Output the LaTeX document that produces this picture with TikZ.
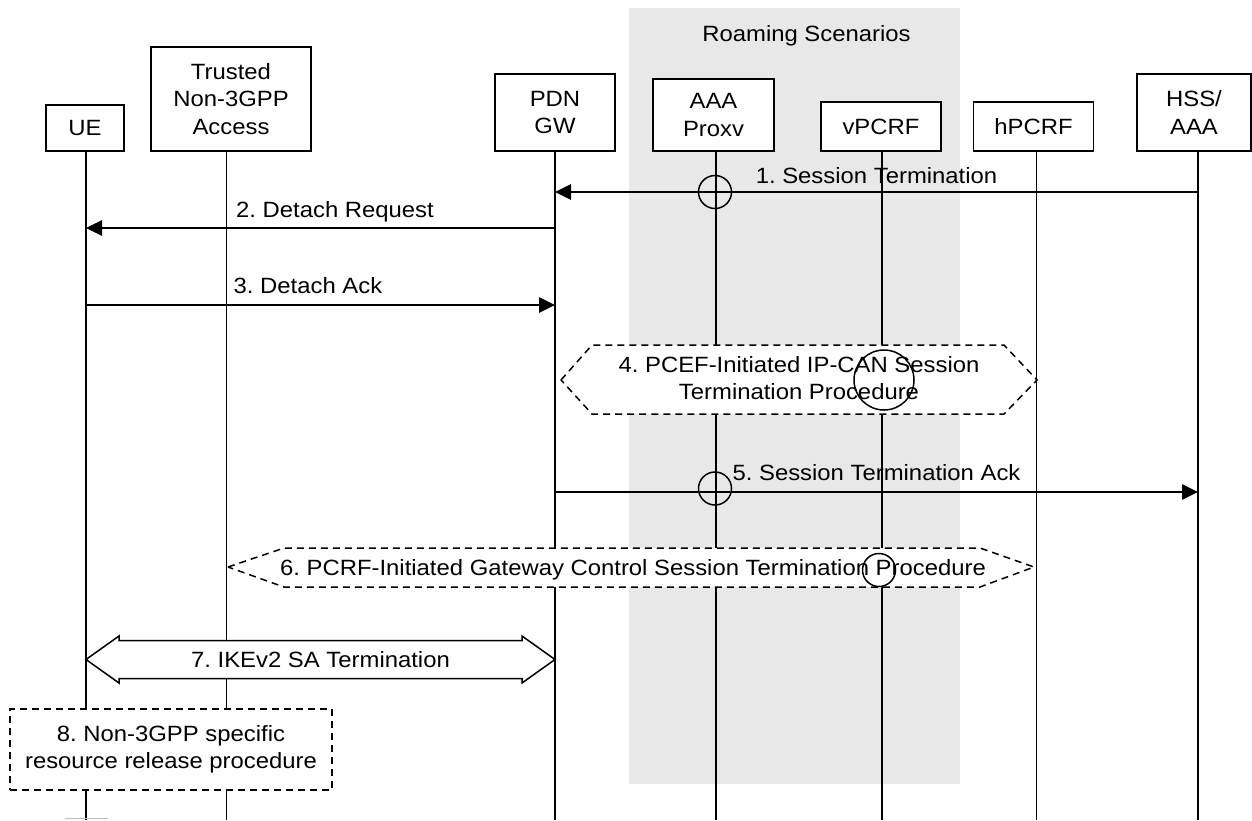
\documentclass[tikz,border=0pt]{standalone}
\usepackage{fontspec}
\setmainfont{Liberation Sans}[FakeStretch=1.08]
\usetikzlibrary{arrows.meta,calc}
\frenchspacing

\begin{document}
\begin{tikzpicture}[x=1pt, y=-1pt,
        font=\fontsize{22.1}{27.5}\selectfont,
        entity/.style={draw, line width=1.6pt, fill=white, align=center, inner sep=0pt},
        life/.style={line width=1.5pt},
        msg/.style={line width=2.8pt, -{Triangle[length=16pt, width=15pt]}},
        lbl/.style={anchor=base, inner sep=0pt},
        procline/.style={line width=1.5pt, dash pattern=on 7pt off 5pt, fill=white},
        ring/.style={line width=1.5pt}]
        % Canvas
        \useasboundingbox (0,0) rectangle (1252,820);

        % Roaming area
        \fill[black!9] (629,8) rectangle (960,784);
        \node (roam) at (806.5,35.5) {Roaming Scenarios};

        % Entities
        \node[entity, minimum width=78pt, minimum height=46pt] (ue) at (85,128) {UE};
        \node[entity, minimum width=160pt, minimum height=104pt] (tna) at (231,99) {Trusted\\Non-3GPP\\Access};
        \node[entity, minimum width=120pt, minimum height=77pt] (pdn) at (555,112.5) {PDN\\GW};
        \node[entity, minimum width=121pt, minimum height=72pt] (aaa) at (713.5,115) {AAA\\Proxv};
        \node[entity, minimum width=120pt, minimum height=49pt] (vpcrf) at (881,126.5) {vPCRF};
        \node[entity, minimum width=120pt, minimum height=49pt] (hpcrf) at (1033.5,126.5) {hPCRF};
        \node[entity, minimum width=114pt, minimum height=77pt] (hss) at (1194,112.5) {HSS/\\AAA};

        % Lifelines
        \coordinate (bot) at (0,820);
        \foreach \n/\x in {ue/86, tna/226.5, pdn/555, aaa/716, vpcrf/882, hpcrf/1036.5, hss/1198}{
            \coordinate (\n-top) at (\n.south -| \x,0);
            \draw[life] (\n-top) -- (\n-top |- bot);
        }

        % Message rows
        \coordinate (m1) at (0,192);
        \coordinate (m2) at (0,228);
        \coordinate (m3) at (0,305);
        \coordinate (m5) at (0,492);
        \coordinate (m7) at (0,659.5);

        % 1-3
        \draw[msg] (hss-top |- m1) -- node[lbl, yshift=9pt] {1. Session Termination} (pdn-top |- m1);
        \draw[ring] (715,192) circle[radius=16.5pt];
        \draw[msg] (pdn-top |- m2) -- node[lbl, yshift=11pt, xshift=14.5pt] {2. Detach Request} (ue-top |- m2);
        \draw[msg] (ue-top |- m3) -- node[lbl, yshift=12pt, xshift=-12.5pt] {3. Detach Ack} (pdn-top |- m3);

        % 4. PCEF procedure
        \draw[procline] (561,380) -- (592,345) -- (1004,345) -- (1037,380) -- (1004,414) -- (592,414) -- cycle;
        \node[align=center] (p4) at (799,378) {4. PCEF-Initiated IP-CAN Session\\Termination Procedure};
        \draw[ring] (884,380) circle[radius=30pt];

        % 5
        \draw[msg] (pdn-top |- m5) -- node[lbl, yshift=12pt] {5. Session Termination Ack} (hss-top |- m5);
        \draw[ring] (715,488.5) circle[radius=16.5pt];

        % 6. PCRF procedure
        \draw[procline] (228,567) -- (284,548) -- (980,548) -- (1034,567) -- (980,587) -- (284,587) -- cycle;
        \node (p6) at (633,569.5) {6. PCRF-Initiated Gateway Control Session Termination Procedure};
        \draw[ring] (879,570) circle[radius=16.5pt];

        % 7. IKEv2 block arrow
        \draw[line width=1.5pt, fill=white] (ue-top |- m7) -- ++(33,-23.5) -- ++(0,4.5)
            -- ($(pdn-top |- m7)+(-33,-19)$) -- ++(0,-4.5) -- (pdn-top |- m7)
            -- ++(-33,23.5) -- ++(0,-4.5) -- ($(ue-top |- m7)+(33,19)$) -- ++(0,4.5) -- cycle;
        \node (ike) at ($(ue-top |- m7)!0.5!(pdn-top |- m7)$) {7. IKEv2 SA Termination};

        % 8. Release
        \node[entity, procline, minimum width=322pt, minimum height=81pt] (rel) at (171,749.5) {8. Non-3GPP specific\\resource release procedure};
        \draw[line width=1.5pt, black!25] (65,818.5) -- (108,818.5);
\end{tikzpicture}
\end{document}
